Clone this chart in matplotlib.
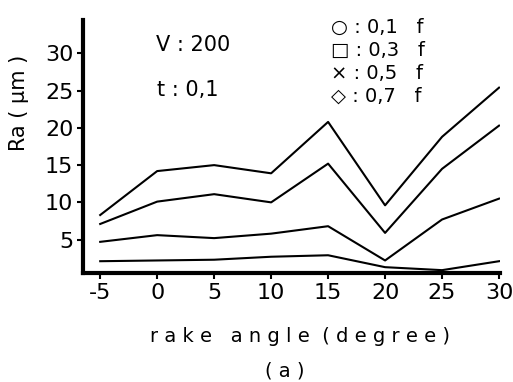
import matplotlib.pyplot as plt

angle = [-5, 0, 5, 10, 15, 20, 25, 30]
ra_f07 = [8.3, 14.2, 15.0, 13.9, 20.8, 9.6, 18.8, 25.4]
ra_f05 = [7.1, 10.1, 11.1, 10.0, 15.2, 5.9, 14.5, 20.3]
ra_f03 = [4.7, 5.6, 5.2, 5.8, 6.8, 2.2, 7.7, 10.5]
ra_f01 = [2.1, 2.2, 2.3, 2.7, 2.9, 1.3, 0.9, 2.1]

legend_lines = ["\u25cb : 0,1   f", "\u25a1 : 0,3   f", "\u00d7 : 0,5   f", "\u25c7 : 0,7   f"]

plt.rcParams['axes.unicode_minus'] = False

fig = plt.figure(figsize=(5.13, 3.82), dpi=100)
ax = fig.add_axes([0.162, 0.285, 0.813, 0.663])

for ys in (ra_f01, ra_f03, ra_f05, ra_f07):
    ax.plot(angle, ys, color="black", lw=1.5)

ax.set_xlim(-6.5, 30.1)
ax.set_ylim(0.5, 34.5)
ax.set_xticks(angle)
ax.set_yticks([5, 10, 15, 20, 25, 30])
ax.tick_params(labelsize=16, width=1.5, length=4, direction="out", pad=3)
for s in ("top", "right"):
    ax.spines[s].set_visible(False)
for s in ("left", "bottom"):
    ax.spines[s].set_linewidth(3)

fig.text(0.305, 0.882, "V : 200", fontsize=15, va="center")
fig.text(0.307, 0.764, "t : 0,1", fontsize=15, va="center")
for i, t in enumerate(legend_lines):
    fig.text(0.645, 0.927 - i * 0.06, t, fontsize=14, va="center")

fig.text(0.037, 0.73, "Ra ( \u03bcm )", fontsize=15, rotation=90, ha="center", va="center")
fig.text(0.585, 0.118, "r a k e   a n g l e  ( d e g r e e )", fontsize=14, ha="center", va="center")
fig.text(0.555, 0.028, "( a )", fontsize=14, ha="center", va="center")

fig.savefig("out.png", dpi=100)
